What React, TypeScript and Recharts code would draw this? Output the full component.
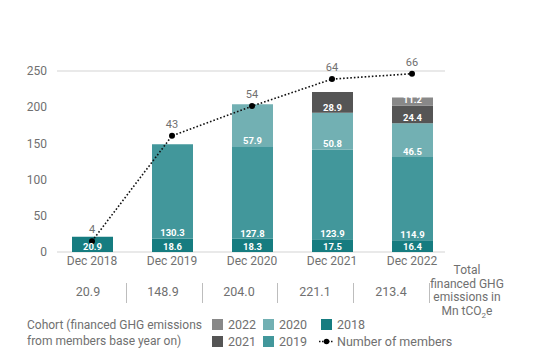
import React from 'react';
import { ComposedChart, Bar, Line, XAxis, YAxis, CartesianGrid, LabelList } from 'recharts';

const categories = ['Dec 2018', 'Dec 2019', 'Dec 2020', 'Dec 2021', 'Dec 2022'];
const cohort2018 = [20.9, 18.6, 18.3, 17.5, 16.4];
const cohort2019 = [null, 130.3, 127.8, 123.9, 114.9];
const cohort2020 = [null, null, 57.9, 50.8, 46.5];
const cohort2021 = [null, null, null, 28.9, 24.4];
const cohort2022 = [null, null, null, null, 11.2];
const members = [4, 43, 54, 64, 66];
const totals = ['20.9', '148.9', '204.0', '221.1', '213.4'];
const leftTicks = [0, 50, 100, 150, 200, 250];
const rightTicks = [0, 10, 20, 30, 40, 50, 60, 70];

const seriesKeys = ['c2018', 'c2019', 'c2020', 'c2021', 'c2022'];
const seriesNames = ['2018', '2019', '2020', '2021', '2022'];
const seriesColors = ['#167c80', '#42979b', '#72b0b3', '#555555', '#888888'];
const seriesValues = [cohort2018, cohort2019, cohort2020, cohort2021, cohort2022];

const data = categories.map((name, i) => {
  const row: any = { name, members: members[i] };
  seriesKeys.forEach((k, s) => {
    row[k] = seriesValues[s][i];
  });
  return row;
});

const TEXT = '#707070';

const BarValueLabel = (props: any) => {
  const { value } = props;
  if (value == null) return null;
  const vb = props.viewBox && props.viewBox.width != null ? props.viewBox : props;
  const { x, y, width, height } = vb;
  return (
    <text x={x + width / 2} y={y + height - 2.2} textAnchor="middle" fill="#ffffff" fontSize={9.5} fontWeight={700}>
      {Number(value).toFixed(1)}
    </text>
  );
};

const MemberLabel = (props: any) => {
  const { value } = props;
  const vb = props.viewBox && props.viewBox.x != null ? props.viewBox : props;
  const { x, y } = vb;
  return (
    <text x={x} y={y - 8} textAnchor="middle" fill={TEXT} fontSize={11}>
      {value}
    </text>
  );
};

const legendItems = [
  { name: '2022', color: '#888888', left: 212, top: 319 },
  { name: '2021', color: '#555555', left: 212, top: 336 },
  { name: '2020', color: '#72b0b3', left: 263, top: 319 },
  { name: '2019', color: '#42979b', left: 263, top: 336 },
  { name: '2018', color: '#167c80', left: 321, top: 319 },
];

const totalCenters = [88, 163, 239, 315, 391];
const separators = [126, 202, 277, 353, 429];

export default function App() {
  return (
    <div
      style={{
        position: 'absolute',
        left: 0,
        top: 0,
        width: 555,
        height: 362,
        background: '#fff',
        fontFamily: 'Roboto, sans-serif',
        color: TEXT,
      }}
    >
      <ComposedChart
        width={555}
        height={275}
        data={data}
        margin={{ top: 71, right: 70, left: 0, bottom: 0 }}
        barSize={41}
      >
        <CartesianGrid vertical={false} stroke="#e2e2e2" strokeWidth={1.5} />
        <XAxis
          dataKey="name"
          axisLine={false}
          tickLine={false}
          tickSize={0}
          tickMargin={4}
          height={23}
          padding={{ left: -5, right: -7 }}
          tick={{ fill: TEXT, fontSize: 12 }}
          interval={0}
        />
        <YAxis
          yAxisId="left"
          domain={[0, 250]}
          ticks={leftTicks}
          width={57}
          axisLine={false}
          tickLine={false}
          tickSize={6}
          tickMargin={4}
          tick={{ fill: TEXT, fontSize: 12 }}
        />
        <YAxis
          yAxisId="right"
          orientation="right"
          domain={[0, 70]}
          ticks={rightTicks}
          width={40}
          axisLine={false}
          tickLine={false}
          tickSize={2}
          tickMargin={2}
          tick={{ fill: TEXT, fontSize: 12, textAnchor: 'start' }}
        />
        <YAxis yAxisId="members" hide domain={[0, 67]} />
        {seriesKeys.map((k, s) => (
          <Bar
            key={k}
            dataKey={k}
            name={seriesNames[s]}
            stackId="a"
            yAxisId="left"
            fill={seriesColors[s]}
            isAnimationActive={false}
          >
            <LabelList dataKey={k} content={BarValueLabel} />
          </Bar>
        ))}
        <Line
          dataKey="members"
          name="Number of members"
          yAxisId="members"
          stroke="#111"
          strokeWidth={1.6}
          strokeDasharray="1.6 2"
          dot={{ r: 3, fill: '#000', stroke: '#000', strokeWidth: 0 }}
          isAnimationActive={false}
        >
          <LabelList dataKey="members" content={MemberLabel} />
        </Line>
      </ComposedChart>

      {totals.map((t, i) => (
        <div
          key={t}
          style={{
            position: 'absolute',
            left: totalCenters[i] - 30,
            width: 60,
            top: 284,
            textAlign: 'center',
            fontSize: 12.5,
            lineHeight: '16px',
          }}
        >
          {t}
        </div>
      ))}
      {separators.map((x) => (
        <div
          key={x}
          style={{ position: 'absolute', left: x, top: 283, width: 1, height: 20, background: '#bdbdbd' }}
        />
      ))}
      <div
        style={{
          position: 'absolute',
          left: 427,
          width: 80,
          top: 264,
          textAlign: 'center',
          fontSize: 12,
          lineHeight: '13.5px',
        }}
      >
        Total
        <br />
        financed GHG
        <br />
        emissions in
        <br />
        Mn tCO<sub style={{ fontSize: 8, verticalAlign: 'sub', lineHeight: 0 }}>2</sub>e
      </div>

      <div
        style={{
          position: 'absolute',
          left: 27,
          top: 318,
          fontSize: 12,
          lineHeight: '15.5px',
        }}
      >
        Cohort (financed GHG emissions
        <br />
        from members base year on)
      </div>
      {legendItems.map((it) => (
        <div key={it.name} style={{ position: 'absolute', left: it.left, top: it.top, display: 'flex', alignItems: 'center', height: 11 }}>
          <div style={{ width: 11, height: 11, background: it.color }} />
          <span style={{ marginLeft: 5, fontSize: 12.5, lineHeight: '11px' }}>{it.name}</span>
        </div>
      ))}
      <div style={{ position: 'absolute', left: 319, top: 336, display: 'flex', alignItems: 'center', height: 11 }}>
        <svg width={15} height={11}>
          <line x1={0} y1={5.5} x2={15} y2={5.5} stroke="#111" strokeWidth={1.4} strokeDasharray="1.5 1.5" />
          <circle cx={7.5} cy={5.5} r={2.8} fill="#000" />
        </svg>
        <span style={{ marginLeft: 3, fontSize: 12.5, lineHeight: '11px' }}>Number of members</span>
      </div>
    </div>
  );
}
